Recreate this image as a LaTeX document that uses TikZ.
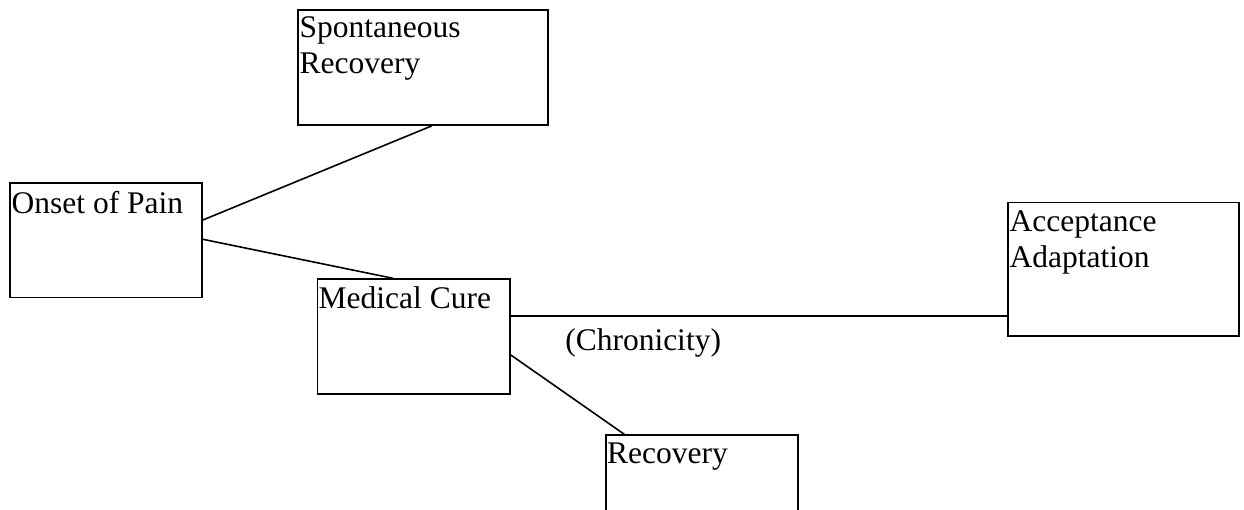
\documentclass[tikz,border=0pt]{standalone}
\usepackage{fontspec}
\setmainfont{Liberation Serif}
\begin{document}
\begin{tikzpicture}[x=1pt,y=-1pt,
  stage/.style={draw, line width=1.6pt, rectangle, anchor=north west, inner sep=0pt},
  stagetext/.style={inner sep=0pt, anchor=base west, align=left,
    font=\fontsize{31.5}{36}\selectfont},
  link/.style={line width=1.6pt}]
  \useasboundingbox (0,0) rectangle (1244,510);
  \clip (0,0) rectangle (1244,510);

  % stages of the pain trajectory
  \node[stage, minimum width=250pt, minimum height=115pt] (spont) at (297.3,9.3) {};
  \node[stage, minimum width=192pt, minimum height=114.5pt] (onset) at (9.3,182.3) {};
  \node[stage, minimum width=192.5pt, minimum height=115pt] (medical) at (316.7,278.3) {};
  \node[stage, minimum width=231pt, minimum height=133.5pt] (accept) at (1007.3,201.7) {};
  \node[stage, minimum width=192.3pt, minimum height=120pt] (recov) at (605,434.3) {};

  % box captions, set in the top left corner (base = last line)
  \node[stagetext] (spontT) at (299.5,74) {Spontaneous\\Recovery};
  \node[stagetext] (onsetT) at (11.5,213.3) {Onset of Pain};
  \node[stagetext] (medicalT) at (318.5,308.3) {Medical Cure};
  \node[stagetext] (acceptT) at (1009.5,268) {Acceptance\\Adaptation};
  \node[stagetext] (recovT) at (607,463.5) {Recovery};

  % connectors
  \draw[link] ([yshift=-37.7pt]onset.north east) -- ([xshift=134.4pt]spont.south west);
  \draw[link] ([yshift=-57pt]onset.north east) -- ([xshift=76.3pt]medical.north west);
  \draw[link] ([yshift=-37.7pt]medical.north east) --
    node[pos=0.2665, anchor=base, yshift=-34pt, inner sep=0pt,
         font=\fontsize{31.5}{36}\selectfont] (chron) {(Chronicity)}
    ([yshift=-114.3pt]accept.north west);
  \draw[link] ([yshift=-76.7pt]medical.north east) -- ([xshift=19.3pt]recov.north west);
\end{tikzpicture}
\end{document}
